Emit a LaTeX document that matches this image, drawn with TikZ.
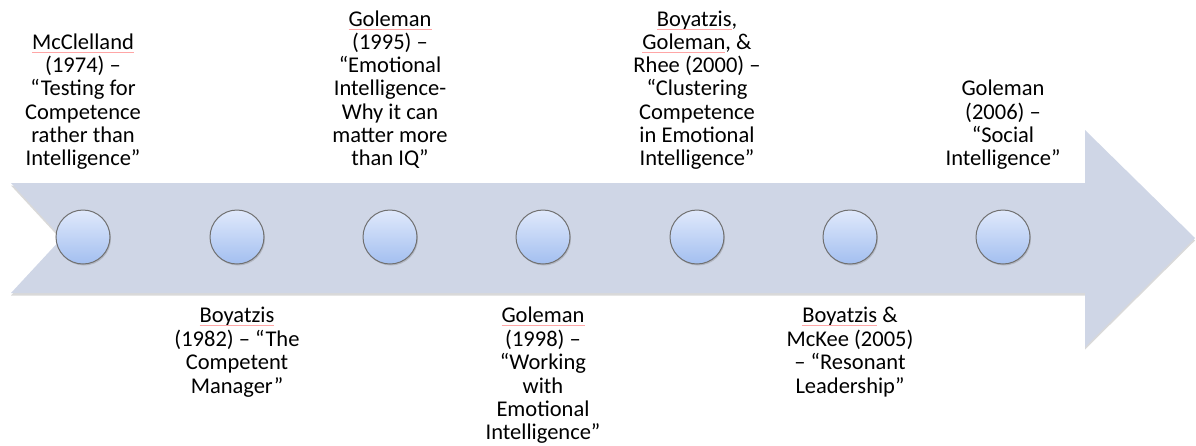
\documentclass[tikz,border=0pt]{standalone}
\usepackage{fontspec}
\setmainfont{Carlito}
\usetikzlibrary{shadows}
\definecolor{band}{HTML}{CFD6E6}
\definecolor{dottop}{HTML}{E0E9FB}
\definecolor{dotbot}{HTML}{A3BFF0}
\definecolor{dotline}{HTML}{707070}
\newcommand\squig[1]{\setbox0\hbox{#1}\rlap{\copy0}\raisebox{-3.5pt}{\textcolor{red!35}{\rule{\wd0}{0.7pt}}}}
\begin{document}
\begin{tikzpicture}[x=1pt,y=-1pt,
  dot/.style={circle,minimum size=54pt,inner sep=0pt,draw=dotline,line width=1pt,
    top color=dottop,bottom color=dotbot,
    drop shadow={shadow xshift=1pt,shadow yshift=-1.5pt,opacity=0.35}},
  lbl/.style={align=center,inner sep=0pt,font=\fontsize{22.5}{23.3}\selectfont},
  toplbl/.style={lbl,anchor=south},
  botlbl/.style={lbl,anchor=north}]
\useasboundingbox (0,0) rectangle (1196,445);
\path[fill=band,drop shadow={shadow xshift=0pt,shadow yshift=-2.5pt,opacity=0.3}]
  (11,183) -- (1085,183) -- (1085,130) -- (1195,238) -- (1085,347) -- (1085,293)
  -- (11,293) -- (62,238) -- cycle;
\foreach \i/\x in {1/83,2/237,3/390,4/543,5/697,6/850,7/1003}
  \node[dot] (c\i) at (\x,237) {};
\node[toplbl] (t1) at (83,173) {\squig{McClelland}\\(1974) –\\“Testing for\\Competence\\rather than\\Intelligence”\strut};
\node[botlbl] (b2) at (237,305.7) {\strut\squig{Boyatzis}\\(1982) – “The\\Competent\\Manager”};
\node[toplbl] (t3) at (390,173) {\squig{Goleman}\\(1995) –\\“Emotional\\Intelligence-\\Why it can\\matter more\\than IQ”\strut};
\node[botlbl] (b4) at (543,305.7) {\strut\squig{Goleman}\\(1998) –\\“Working\\with\\Emotional\\Intelligence”};
\node[toplbl] (t5) at (697,173) {\squig{Boyatzis},\\\squig{Goleman}, \&\\Rhee (2000) –\\“Clustering\\Competence\\in Emotional\\Intelligence”\strut};
\node[botlbl] (b6) at (850,305.7) {\strut\squig{Boyatzis} \&\\McKee (2005)\\– “Resonant\\Leadership”};
\node[toplbl] (t7) at (1003,173) {Goleman\\(2006) –\\“Social\\Intelligence”\strut};
\end{tikzpicture}
\end{document}
